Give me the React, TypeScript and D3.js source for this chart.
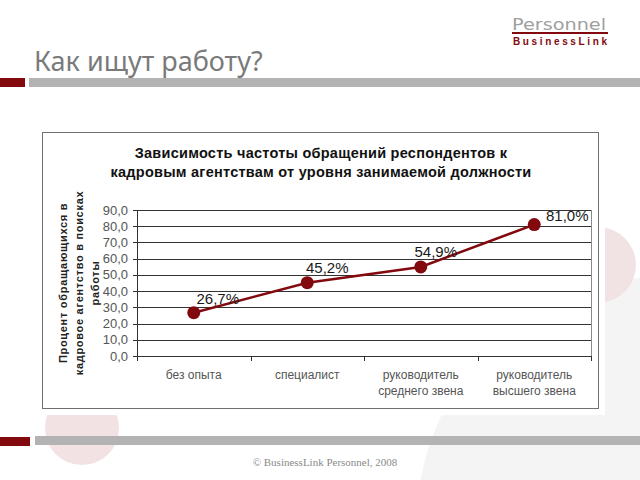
import React from "react";
import * as d3 from "d3";

const categories: string[][] = [
  ["без опыта"],
  ["специалист"],
  ["руководитель", "среднего звена"],
  ["руководитель", "высшего звена"],
];
const values: number[] = [26.7, 45.2, 54.9, 81.0];
const valueLabels: string[] = ["26,7%", "45,2%", "54,9%", "81,0%"];
const yTicks: number[] = [0, 10, 20, 30, 40, 50, 60, 70, 80, 90];
const chartTitle: string[] = [
  "Зависимость частоты обращений респондентов к",
  "кадровым агентствам от уровня занимаемой должности",
];
const yAxisTitle: string[] = [
  "Процент обращающихся в",
  "кадровое агентство в поисках",
  "работы",
];
const pageTitle = "Как ищут работу?";
const footer = "© BusinessLink Personnel, 2008";

export default function App() {
  const W = 640;
  const H = 480;
  const plot = { left: 137, right: 591, top: 210, bottom: 356 };
  const x = d3
    .scaleBand<number>()
    .domain(categories.map((_, i) => i))
    .range([plot.left, plot.right])
    .paddingInner(0)
    .paddingOuter(0);
  const y = d3.scaleLinear().domain([0, 90]).range([plot.bottom, plot.top]);
  const cx = (i: number) => (x(i) as number) + x.bandwidth() / 2;
  const line = d3
    .line<number>()
    .x((_, i) => cx(i))
    .y((d) => y(d));
  const sans = "'Liberation Sans', Arial, sans-serif";
  const dark = "#820a0f";
  const labelDx = [24, 20, 15, 33];
  const labelDy = [-9, -10, -10, -4];

  return (
    <svg
      width={W}
      height={H}
      style={{ position: "absolute", left: 0, top: 0, display: "block" }}
    >
      <rect x={0} y={0} width={W} height={H} fill="#ffffff" />
      {/* background decorations */}
      <circle cx={662} cy={522} r={245} fill="#f4f4f4" />
      <circle cx={598} cy={265} r={38} fill="#f1e3e4" />
      <circle cx={82} cy={428} r={37} fill="#f3e2e4" />
      <rect x={36} y={125} width={569} height={290} fill="#ffffff" />

      {/* logo */}
      <text
        x={512}
        y={30}
        fontFamily="'DejaVu Sans', sans-serif"
        fontSize={16}
        fill="#a0a0a0"
        textLength={94}
        lengthAdjust="spacingAndGlyphs"
      >
        Personnel
      </text>
      <rect x={512} y={32} width={96} height={2} fill={dark} />
      <text
        x={513}
        y={45}
        fontFamily={sans}
        fontWeight="bold"
        fontSize={10}
        fill={dark}
        textLength={94}
        lengthAdjust="spacing"
      >
        BusinessLink
      </text>

      {/* page title */}
      <text
        x={34}
        y={71}
        fontFamily="'Noto Sans', 'DejaVu Sans', sans-serif"
        fontSize={27}
        fill="#7a7a7a"
      >
        {pageTitle}
      </text>
      <rect x={0} y={78} width={25} height={9} fill={dark} />
      <rect x={29} y={78} width={611} height={9} fill="#b3b3b3" />

      {/* bottom bars */}
      <rect x={0} y={437} width={30} height={9} fill={dark} />
      <rect x={35} y={436} width={605} height={9} fill="#b3b3b3" />
      <text
        x={325}
        y={466}
        textAnchor="middle"
        fontFamily="'Liberation Serif', serif"
        fontSize={11}
        fill="#8a8a8a"
      >
        {footer}
      </text>

      {/* chart frame */}
      <rect
        x={42.5}
        y={132.5}
        width={556}
        height={276}
        fill="#ffffff"
        stroke="#707070"
        strokeWidth={1}
      />
      {chartTitle.map((t, i) => (
        <text
          key={i}
          x={321}
          y={158 + i * 19}
          textAnchor="middle"
          fontFamily={sans}
          fontWeight="bold"
          fontSize={14.5}
          letterSpacing={0.25}
          fill="#111"
        >
          {t}
        </text>
      ))}

      {/* y axis title */}
      <g transform="translate(0,283)">
        {yAxisTitle.map((t, i) => (
          <text
            key={i}
            transform={`translate(${67 + i * 16},0) rotate(-90)`}
            textAnchor="middle"
            fontFamily={sans}
            fontWeight="bold"
            fontSize={11}
            fill="#222"
            letterSpacing={0.7}
          >
            {t}
          </text>
        ))}
      </g>

      {/* plot frame and grid */}
      <rect
        x={plot.left + 0.5}
        y={plot.top + 0.5}
        width={plot.right - plot.left}
        height={plot.bottom - plot.top}
        fill="none"
        stroke="#8a8a8a"
      />
      {yTicks.map((t) => (
        <g key={t}>
          {t > 0 && (
            <line
              x1={plot.left}
              x2={plot.right}
              y1={Math.round(y(t)) + 0.5}
              y2={Math.round(y(t)) + 0.5}
              stroke="#333"
              strokeWidth={1}
            />
          )}
          <line
            x1={plot.left - 4}
            x2={plot.left}
            y1={Math.round(y(t)) + 0.5}
            y2={Math.round(y(t)) + 0.5}
            stroke="#333"
          />
          <text
            x={plot.left - 9}
            y={y(t) + 4.5}
            textAnchor="end"
            fontFamily={sans}
            fontSize={13}
            fill="#555"
          >
            {d3.format(".1f")(t).replace(".", ",")}
          </text>
        </g>
      ))}
      <line
        x1={plot.left + 0.5}
        x2={plot.left + 0.5}
        y1={plot.top}
        y2={plot.bottom}
        stroke="#333"
      />
      <line
        x1={plot.left}
        x2={plot.right}
        y1={plot.bottom + 0.5}
        y2={plot.bottom + 0.5}
        stroke="#333"
      />
      {categories.map((_, i) => (
        <line
          key={i}
          x1={Math.round(x(i) as number) + 0.5}
          x2={Math.round(x(i) as number) + 0.5}
          y1={plot.bottom}
          y2={plot.bottom + 5}
          stroke="#333"
        />
      ))}
      <line
        x1={plot.right + 0.5}
        x2={plot.right + 0.5}
        y1={plot.bottom}
        y2={plot.bottom + 5}
        stroke="#333"
      />

      {/* x labels */}
      {categories.map((lines, i) =>
        lines.map((l, j) => (
          <text
            key={`${i}-${j}`}
            x={cx(i)}
            y={379 + j * 16}
            textAnchor="middle"
            fontFamily={sans}
            fontSize={12}
            fill="#555"
          >
            {l}
          </text>
        ))
      )}

      {/* series */}
      <path d={line(values) || ""} fill="none" stroke={dark} strokeWidth={2.5} />
      {values.map((v, i) => (
        <circle key={i} cx={cx(i)} cy={y(v)} r={6.5} fill={dark} />
      ))}
      {values.map((v, i) => (
        <text
          key={i}
          x={cx(i) + labelDx[i]}
          y={y(v) + labelDy[i]}
          textAnchor="middle"
          fontFamily={sans}
          fontSize={15}
          fill="#1a1a1a"
        >
          {valueLabels[i]}
        </text>
      ))}
    </svg>
  );
}
